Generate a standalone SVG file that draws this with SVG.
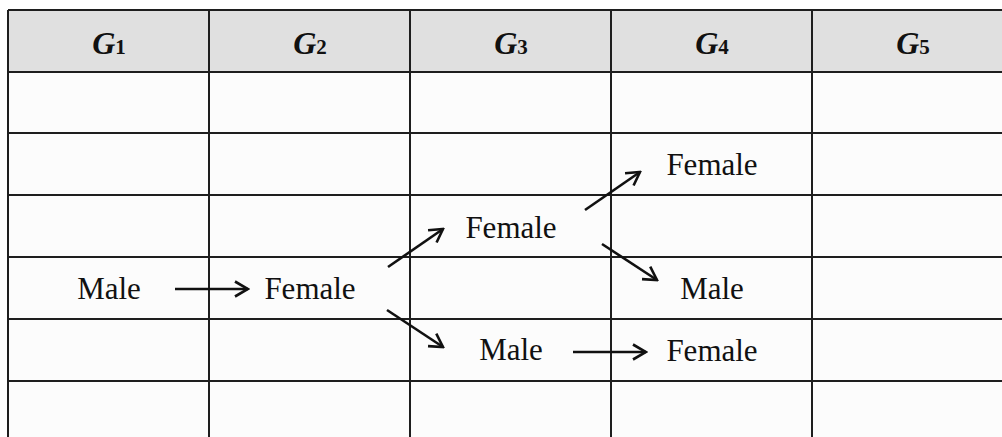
<svg xmlns="http://www.w3.org/2000/svg" width="1002" height="437" viewBox="0 0 1002 437">
  <style>
    .grid { stroke: #1e1e1e; stroke-width: 2; fill: none; }
    .hdr { font-family: "Liberation Serif", "Times New Roman", "DejaVu Serif", serif; font-size: 32px; font-weight: 700; font-style: italic; fill: #111; }
    .sub { font-size: 21px; font-style: normal; font-weight: 700; }
    .lbl { font-family: "Liberation Serif", "Times New Roman", serif; font-size: 31px; fill: #111; text-anchor: middle; }
    .arrow { stroke: #111; stroke-width: 2.6; fill: none; marker-end: url(#ah); }
  </style>
  <defs>
    <marker id="ah" markerUnits="userSpaceOnUse" viewBox="-15 -10 17 20" refX="0" refY="0" markerWidth="17" markerHeight="20" orient="auto">
      <path d="M-13,-7.5 L0,0 L-13,7.5" fill="none" stroke="#111" stroke-width="2.6" stroke-linejoin="miter"/>
    </marker>
  </defs>
  <rect width="1002" height="437" fill="#ffffff"/>
  <rect x="8" y="10" width="1010" height="440" fill="#fcfcfc"/>
  <g id="header">
    <rect x="8" y="10" width="1010" height="62" fill="#e0e0e0"/>
  </g>
  <g id="table" class="grid">
    <line x1="8" y1="10" x2="1010" y2="10"/>
    <line x1="8" y1="72" x2="1010" y2="72"/>
    <line x1="8" y1="133" x2="1010" y2="133"/>
    <line x1="8" y1="195" x2="1010" y2="195"/>
    <line x1="8" y1="257" x2="1010" y2="257"/>
    <line x1="8" y1="319" x2="1010" y2="319"/>
    <line x1="8" y1="381" x2="1010" y2="381"/>
    <line x1="8" y1="10" x2="8" y2="445"/>
    <line x1="209" y1="10" x2="209" y2="445"/>
    <line x1="410" y1="10" x2="410" y2="445"/>
    <line x1="611" y1="10" x2="611" y2="445"/>
    <line x1="812" y1="10" x2="812" y2="445"/>
  </g>
  <g id="headers">
    <text class="hdr" x="109" y="54" text-anchor="middle">G<tspan class="sub">1</tspan></text>
    <text class="hdr" x="310" y="54" text-anchor="middle">G<tspan class="sub">2</tspan></text>
    <text class="hdr" x="511" y="54" text-anchor="middle">G<tspan class="sub">3</tspan></text>
    <text class="hdr" x="712" y="54" text-anchor="middle">G<tspan class="sub">4</tspan></text>
    <text class="hdr" x="913" y="54" text-anchor="middle">G<tspan class="sub">5</tspan></text>
  </g>
  <g id="g1-male"><text class="lbl" x="109" y="299">Male</text></g>
  <g id="g2-female"><text class="lbl" x="310" y="299">Female</text></g>
  <g id="g3-female"><text class="lbl" x="511" y="238">Female</text></g>
  <g id="g3-male"><text class="lbl" x="511" y="360">Male</text></g>
  <g id="g4-female-top"><text class="lbl" x="712" y="175">Female</text></g>
  <g id="g4-male"><text class="lbl" x="712" y="299">Male</text></g>
  <g id="g4-female-bottom"><text class="lbl" x="712" y="361">Female</text></g>
  <g id="connectors">
    <line class="arrow" x1="175" y1="289" x2="248" y2="289"/>
    <line class="arrow" x1="388" y1="267" x2="443" y2="229"/>
    <line class="arrow" x1="387" y1="310" x2="443" y2="347"/>
    <line class="arrow" x1="585" y1="210" x2="640" y2="172"/>
    <line class="arrow" x1="602" y1="244" x2="657" y2="280"/>
    <line class="arrow" x1="573" y1="352" x2="646" y2="352"/>
  </g>
</svg>
